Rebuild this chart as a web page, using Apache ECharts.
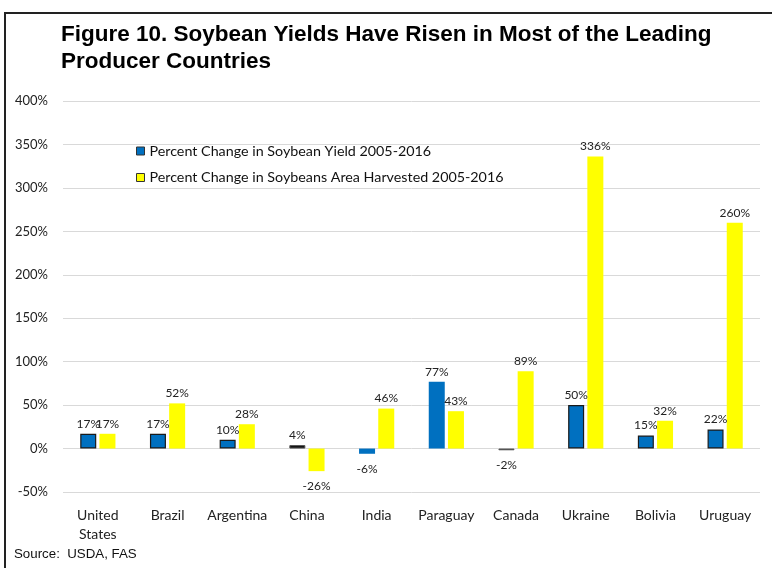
<!DOCTYPE html>
<html>
<head>
<meta charset="utf-8">
<script src="https://cdn.jsdelivr.net/npm/echarts@6/dist/echarts.min.js"></script>
<style>
  html, body { margin: 0; padding: 0; background: #fff; }
  #chart { width: 772px; height: 568px; }
</style>
</head>
<body>
<div id="chart"></div>
<script>
// Countries along the category axis
const countries = ['United States', 'Brazil', 'Argentina', 'China', 'India',
                   'Paraguay', 'Canada', 'Ukraine', 'Bolivia', 'Uruguay'];

// Percent change 2005-2016
const yieldChange = [17, 17, 10, 4, -6, 77, -2, 50, 15, 22];
const areaChange  = [17, 52, 28, -26, 46, 43, 89, 336, 32, 260];

const seriesNames = [
  'Percent Change in Soybean Yield 2005-2016',
  'Percent Change in Soybeans Area Harvested 2005-2016'
];

// Value-axis ticks (percent)
const yTicks = [-50, 0, 50, 100, 150, 200, 250, 300, 350, 400];

// Yield bars drawn with a dark outline / dark fill
const outlinedYield = ['United States', 'Brazil', 'Argentina', 'Ukraine', 'Bolivia', 'Uruguay'];
const darkYield = ['China', 'Canada'];

const BLUE = '#0070C0';
const YELLOW = '#FFFF00';
const LABEL_FONT = 'Lato, "Open Sans", sans-serif';

function barLabel(v) {
  return {
    show: true,
    position: 'outside',
    distance: v < 0 ? 9 : 4,
    formatter: v + '%',
    fontFamily: LABEL_FONT,
    fontSize: 12,
    color: '#222'
  };
}

const yieldData = yieldChange.map((v, i) => {
  const name = countries[i];
  const item = { value: v, label: barLabel(v), itemStyle: { color: BLUE } };
  if (darkYield.includes(name)) {
    item.itemStyle = { color: '#111', borderColor: '#555', borderWidth: 1 };
  } else if (outlinedYield.includes(name)) {
    item.itemStyle = { color: BLUE, borderColor: '#1a1a1a', borderWidth: 1.2 };
  }
  return item;
});

const areaData = areaChange.map(v => ({ value: v, label: barLabel(v) }));

const chart = echarts.init(document.getElementById('chart'), null, { renderer: 'canvas' });

chart.setOption({
  backgroundColor: '#fff',
  animation: false,
  title: {
    text: 'Figure 10. Soybean Yields Have Risen in Most of the Leading\nProducer Countries',
    left: 56,
    top: 16,
    textStyle: {
      fontFamily: '"Liberation Sans", Arial, sans-serif',
      fontWeight: 'bold',
      fontSize: 22.5,
      lineHeight: 27,
      color: '#000'
    }
  },
  legend: {
    orient: 'vertical',
    left: 131,
    top: 139,
    itemWidth: 8,
    itemHeight: 8,
    itemGap: 12.5,
    icon: 'rect',
    data: seriesNames,
    itemStyle: { borderColor: '#333', borderWidth: 1 },
    textStyle: {
      fontFamily: LABEL_FONT,
      fontSize: 14.3,
      color: '#111'
    }
  },
  grid: { left: 63, right: 12, top: 101, bottom: 76 },
  xAxis: {
    type: 'category',
    data: countries,
    axisLine: { show: false, onZero: false },
    axisTick: { show: false },
    axisLabel: {
      interval: 0,
      margin: 14,
      fontFamily: LABEL_FONT,
      fontSize: 14,
      lineHeight: 19,
      color: '#222',
      formatter: v => v.replace(' ', '\n')
    }
  },
  yAxis: {
    type: 'value',
    min: yTicks[0],
    max: yTicks[yTicks.length - 1],
    interval: yTicks[1] - yTicks[0],
    axisLine: { show: false },
    axisTick: { show: false },
    axisLabel: {
      margin: 15,
      fontFamily: LABEL_FONT,
      fontSize: 13,
      color: '#222',
      formatter: v => v + '%'
    },
    splitLine: { lineStyle: { color: '#d9d9d9', width: 1 } }
  },
  series: [
    {
      name: seriesNames[0],
      type: 'bar',
      data: yieldData,
      barWidth: 16,
      barGap: '20%',
      itemStyle: { color: BLUE }
    },
    {
      name: seriesNames[1],
      type: 'bar',
      data: areaData,
      barWidth: 16,
      barGap: '20%',
      itemStyle: { color: YELLOW }
    }
  ],
  graphic: [
    {
      type: 'polyline',
      shape: { points: [[5, 568], [5, 13], [772, 13]] },
      style: { stroke: '#222', lineWidth: 2, fill: null },
      silent: true
    },
    {
      type: 'text',
      left: 14,
      top: 548,
      style: {
        text: 'Source:  USDA, FAS',
        font: '13.3px "Liberation Sans", Arial, sans-serif',
        fill: '#111'
      }
    }
  ]
});
</script>
</body>
</html>
